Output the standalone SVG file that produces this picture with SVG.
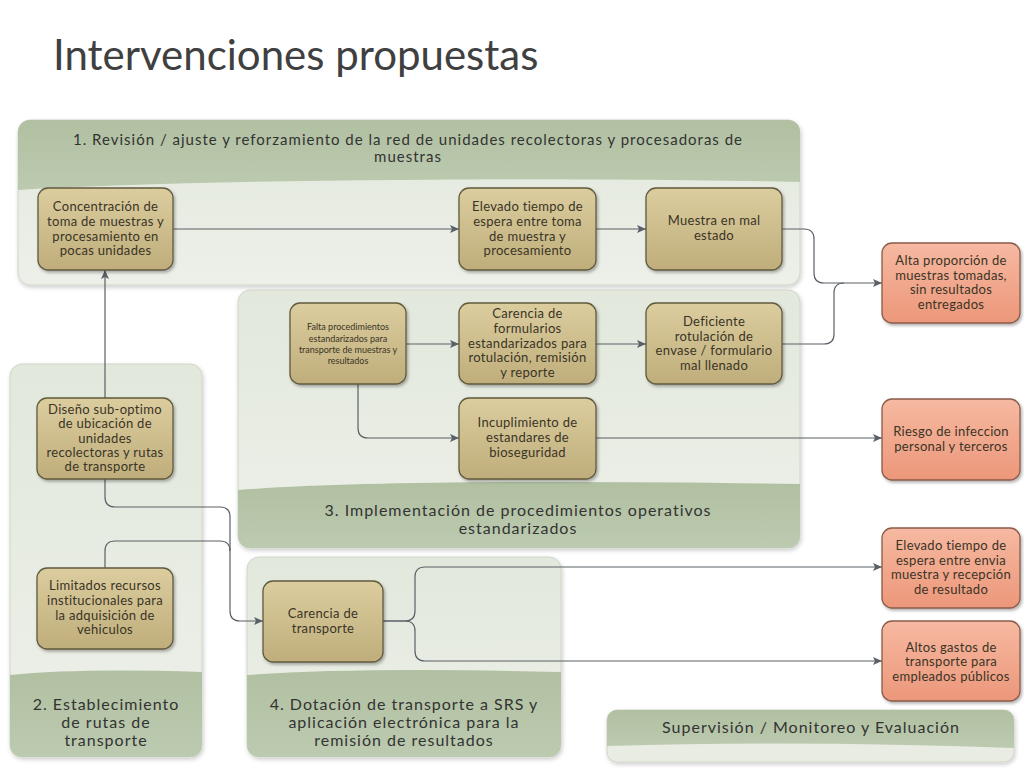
<svg xmlns="http://www.w3.org/2000/svg" width="1024" height="768" viewBox="0 0 1024 768">
<defs>
<linearGradient id="gNode" x1="0" y1="0" x2="0" y2="1"><stop offset="0" stop-color="#dccd9f"/><stop offset="1" stop-color="#bfae7b"/></linearGradient>
<linearGradient id="gOut" x1="0" y1="0" x2="0" y2="1"><stop offset="0" stop-color="#f6b9a1"/><stop offset="1" stop-color="#ec977a"/></linearGradient>
<linearGradient id="gBody" x1="0" y1="0" x2="0" y2="1"><stop offset="0" stop-color="#e2e8dc"/><stop offset="1" stop-color="#edf0e9"/></linearGradient>
<linearGradient id="gBand" x1="0" y1="0" x2="0" y2="1"><stop offset="0" stop-color="#b1c0a1"/><stop offset="1" stop-color="#bccab0"/></linearGradient>
<filter id="sh" x="-10%" y="-10%" width="130%" height="130%"><feDropShadow dx="1.5" dy="2" stdDeviation="1.5" flood-color="#000" flood-opacity="0.3"/></filter>
<filter id="shp" x="-5%" y="-5%" width="110%" height="115%"><feDropShadow dx="1" dy="2" stdDeviation="2" flood-color="#000" flood-opacity="0.2"/></filter>
<marker id="arr" markerWidth="10" markerHeight="8" refX="9" refY="4" orient="auto" markerUnits="userSpaceOnUse"><path d="M0,0 L9,4 L0,8 L2,4 Z" fill="#5b6066"/></marker>
<clipPath id="c1"><rect x="18" y="120" width="782" height="165" rx="12"/></clipPath>
<clipPath id="c3"><rect x="238" y="290" width="562" height="258" rx="12"/></clipPath>
<clipPath id="c2"><rect x="10" y="364" width="192" height="393" rx="12"/></clipPath>
<clipPath id="c4"><rect x="247" y="557" width="314" height="200" rx="12"/></clipPath>
<clipPath id="c5"><rect x="607" y="710" width="407" height="52" rx="10"/></clipPath>
</defs>
<style>
.panel{fill:url(#gBody);stroke:#cfd6c7;stroke-width:1}
.band{fill:url(#gBand)}
.node{fill:url(#gNode);stroke:#615a3e;stroke-width:1.3}
.out{fill:url(#gOut);stroke:#8a5b4a;stroke-width:1.3}
.t{font-family:Lato,"Open Sans","Liberation Sans",sans-serif;fill:#3a3426;text-anchor:middle;font-size:13px;letter-spacing:0.3px}
.ts{font-size:9px;letter-spacing:0}
.h{font-family:Lato,"Open Sans","Liberation Sans",sans-serif;fill:#333;text-anchor:middle;font-size:16px;letter-spacing:1px}
.h1{font-size:15px}
.conn path{fill:none;stroke:#5b6066;stroke-width:1.2}
</style>
<rect width="1024" height="768" fill="#fff"/>
<text x="53" y="70" font-family="Lato,'Open Sans','Liberation Sans',sans-serif" font-size="42" fill="#404040">Intervenciones propuestas</text>

<g id="group1">
<rect class="panel" x="18" y="120" width="782" height="165" rx="12" filter="url(#shp)"/>
<path class="band" clip-path="url(#c1)" d="M18,120 H800 V182 Q600,178 400,180 Q150,182 18,190 Z"/>
<text class="h h1" x="408" y="145">1. Revisión / ajuste y reforzamiento de la red de unidades recolectoras y procesadoras de</text>
<text class="h h1" x="408" y="162">muestras</text>
</g>
<g id="group3">
<rect class="panel" x="238" y="290" width="562" height="258" rx="12" filter="url(#shp)"/>
<path class="band" clip-path="url(#c3)" d="M238,490 Q400,478 800,484 V548 H238 Z"/>
<text class="h" x="518" y="516">3. Implementación de procedimientos operativos</text>
<text class="h" x="518" y="534">estandarizados</text>
</g>
<g id="group2">
<rect class="panel" x="10" y="364" width="192" height="393" rx="12" filter="url(#shp)"/>
<path class="band" clip-path="url(#c2)" d="M10,675 Q80,668 202,672 V757 H10 Z"/>
<text class="h" x="106" y="710">2. Establecimiento</text>
<text class="h" x="106" y="728">de rutas de</text>
<text class="h" x="106" y="746">transporte</text>
</g>
<g id="group4">
<rect class="panel" x="247" y="557" width="314" height="200" rx="12" filter="url(#shp)"/>
<path class="band" clip-path="url(#c4)" d="M247,675 Q360,667 561,672 V757 H247 Z"/>
<text class="h" x="404" y="710">4. Dotación de transporte a SRS y</text>
<text class="h" x="404" y="728">aplicación electrónica para la</text>
<text class="h" x="404" y="746">remisión de resultados</text>
</g>
<g id="supervision">
<rect x="607" y="710" width="407" height="52" rx="10" fill="#e8ece3" stroke="#cfd6c7" filter="url(#shp)"/>
<path class="band" clip-path="url(#c5)" d="M607,710 H1014 V748 Q800,740 607,746 Z"/>
<text class="h" x="811" y="733">Supervisión / Monitoreo y Evaluación</text>
</g>

<g class="conn" id="connectors">
<path d="M173,229 H459" marker-end="url(#arr)"/>
<path d="M596,229 H646" marker-end="url(#arr)"/>
<path d="M782,229 H804 Q814,229 814,239 V273 Q814,283 824,283 H882" marker-end="url(#arr)"/>
<path d="M782,344 H824 Q834,344 834,334 V293 Q834,283 844,283"/>
<path d="M406,344 H459" marker-end="url(#arr)"/>
<path d="M596,344 H646" marker-end="url(#arr)"/>
<path d="M358,384 V428 Q358,438 368,438 H459" marker-end="url(#arr)"/>
<path d="M596,438 H882" marker-end="url(#arr)"/>
<path d="M105,398 V270" marker-end="url(#arr)"/>
<path d="M105,479 V497 Q105,507 115,507 H220 Q230,507 230,517 V611 Q230,621 240,621 H263" marker-end="url(#arr)"/>
<path d="M105,568 V551 Q105,541 115,541 H220 Q230,541 230,551"/>
<path d="M383,621 H405 Q415,621 415,611 V577 Q415,567 425,567 H882" marker-end="url(#arr)"/>
<path d="M383,621 H405 Q415,621 415,631 V651 Q415,661 425,661 H882" marker-end="url(#arr)"/>
</g>

<g id="n-concentracion">
<rect class="node" x="38" y="188" width="135" height="82" rx="10" filter="url(#sh)"/>
<text class="t" x="105.5" y="211">Concentración de</text>
<text class="t" x="105.5" y="226">toma de muestras y</text>
<text class="t" x="105.5" y="241">procesamiento en</text>
<text class="t" x="105.5" y="255">pocas unidades</text>
</g>
<g id="n-elevado1">
<rect class="node" x="459" y="188" width="137" height="82" rx="10" filter="url(#sh)"/>
<text class="t" x="527.5" y="211">Elevado tiempo de</text>
<text class="t" x="527.5" y="226">espera entre toma</text>
<text class="t" x="527.5" y="241">de muestra y</text>
<text class="t" x="527.5" y="255">procesamiento</text>
</g>
<g id="n-muestra">
<rect class="node" x="646" y="188" width="136" height="82" rx="10" filter="url(#sh)"/>
<text class="t" x="714" y="225">Muestra en mal</text>
<text class="t" x="714" y="240">estado</text>
</g>
<g id="n-falta">
<rect class="node" x="290" y="303" width="116" height="81" rx="10" filter="url(#sh)"/>
<text class="t ts" x="348" y="330">Falta procedimientos</text>
<text class="t ts" x="348" y="342">estandarizados para</text>
<text class="t ts" x="348" y="353">transporte de muestras y</text>
<text class="t ts" x="348" y="364">resultados</text>
</g>
<g id="n-carencia-form">
<rect class="node" x="459" y="303" width="137" height="81" rx="10" filter="url(#sh)"/>
<text class="t" x="527.5" y="318">Carencia de</text>
<text class="t" x="527.5" y="333">formularios</text>
<text class="t" x="527.5" y="348">estandarizados para</text>
<text class="t" x="527.5" y="362">rotulación, remisión</text>
<text class="t" x="527.5" y="377">y reporte</text>
</g>
<g id="n-deficiente">
<rect class="node" x="646" y="303" width="136" height="81" rx="10" filter="url(#sh)"/>
<text class="t" x="714" y="326">Deficiente</text>
<text class="t" x="714" y="341">rotulación de</text>
<text class="t" x="714" y="355">envase / formulario</text>
<text class="t" x="714" y="370">mal llenado</text>
</g>
<g id="n-incuplimiento">
<rect class="node" x="459" y="398" width="137" height="81" rx="10" filter="url(#sh)"/>
<text class="t" x="527.5" y="427">Incuplimiento de</text>
<text class="t" x="527.5" y="442">estandares de</text>
<text class="t" x="527.5" y="457">bioseguridad</text>
</g>
<g id="n-diseno">
<rect class="node" x="37" y="398" width="136" height="81" rx="10" filter="url(#sh)"/>
<text class="t" x="105" y="414">Diseño sub-optimo</text>
<text class="t" x="105" y="428">de ubicación de</text>
<text class="t" x="105" y="443">unidades</text>
<text class="t" x="105" y="457">recolectoras y rutas</text>
<text class="t" x="105" y="471">de transporte</text>
</g>
<g id="n-limitados">
<rect class="node" x="37" y="568" width="136" height="81" rx="10" filter="url(#sh)"/>
<text class="t" x="105" y="590">Limitados recursos</text>
<text class="t" x="105" y="605">institucionales para</text>
<text class="t" x="105" y="620">la adquisición de</text>
<text class="t" x="105" y="634">vehiculos</text>
</g>
<g id="n-carencia-transp">
<rect class="node" x="263" y="581" width="120" height="81" rx="10" filter="url(#sh)"/>
<text class="t" x="323" y="618">Carencia de</text>
<text class="t" x="323" y="633">transporte</text>
</g>
<g id="o-alta">
<rect class="out" x="882" y="243" width="138" height="80" rx="10" filter="url(#sh)"/>
<text class="t" x="951" y="265">Alta proporción de</text>
<text class="t" x="951" y="280">muestras tomadas,</text>
<text class="t" x="951" y="294">sin resultados</text>
<text class="t" x="951" y="309">entregados</text>
</g>
<g id="o-riesgo">
<rect class="out" x="882" y="399" width="138" height="81" rx="10" filter="url(#sh)"/>
<text class="t" x="951" y="436">Riesgo de infeccion</text>
<text class="t" x="951" y="451">personal y terceros</text>
</g>
<g id="o-elevado">
<rect class="out" x="882" y="528" width="138" height="80" rx="10" filter="url(#sh)"/>
<text class="t" x="951" y="550">Elevado tiempo de</text>
<text class="t" x="951" y="565">espera entre envia</text>
<text class="t" x="951" y="579">muestra y recepción</text>
<text class="t" x="951" y="594">de resultado</text>
</g>
<g id="o-altos">
<rect class="out" x="882" y="621" width="138" height="80" rx="10" filter="url(#sh)"/>
<text class="t" x="951" y="652">Altos gastos de</text>
<text class="t" x="951" y="666">transporte para</text>
<text class="t" x="951" y="681">empleados públicos</text>
</g>
</svg>
